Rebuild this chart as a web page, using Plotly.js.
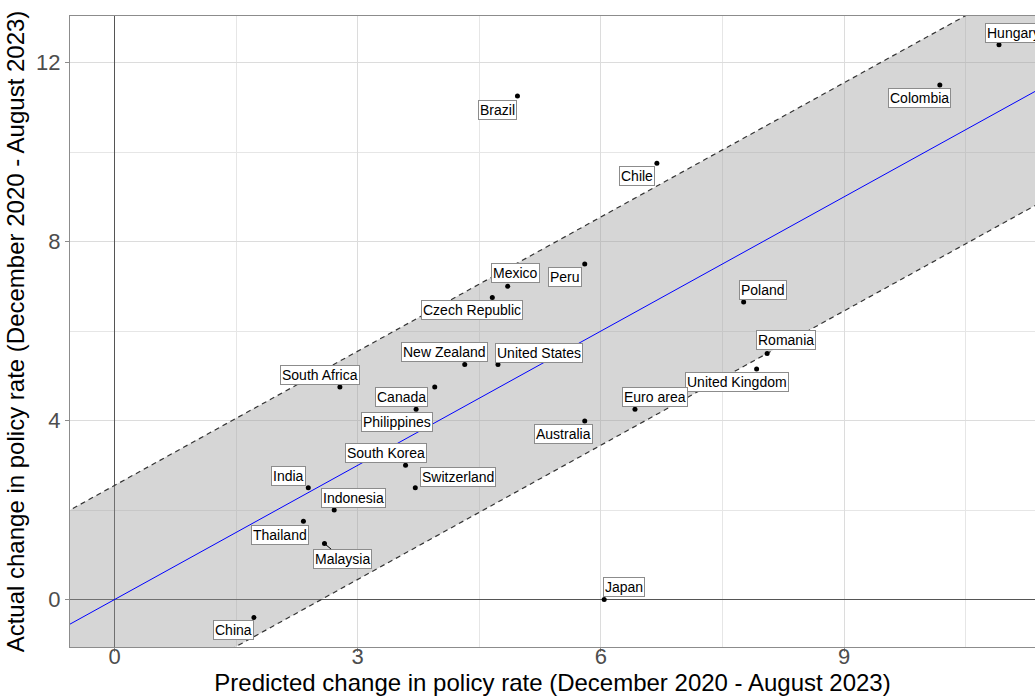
<!DOCTYPE html>
<html>
<head>
<meta charset="utf-8">
<script src="https://cdn.plot.ly/plotly-3.0.1.min.js"></script>
<style>html,body{margin:0;padding:0;background:#fff;}#chart{width:1035px;height:698px;}</style>
</head>
<body>
<div id="chart"></div>
<script>
// ---- Data ----
const countries = ["Brazil","Chile","Hungary","Colombia","Mexico","Peru","Czech Republic","New Zealand","United States","South Africa","Canada","Philippines","Australia","South Korea","Switzerland","India","Indonesia","Thailand","Malaysia","Poland","Romania","United Kingdom","Euro area","China","Japan"];
const predicted = [4.97,6.69,10.91,10.18,4.85,5.80,4.66,4.32,4.73,2.78,3.95,3.72,5.80,3.59,3.71,2.39,2.71,2.33,2.59,7.76,8.05,7.92,6.42,1.72,6.04];
const actual    = [11.25,9.75,12.40,11.50,7.00,7.50,6.75,5.25,5.25,4.75,4.75,4.25,3.99,3.00,2.50,2.50,2.00,1.75,1.25,6.65,5.50,5.15,4.25,-0.40,0.00];
const xTicks = [0,3,6,9];
const yTicks = [0,4,8,12];
// fitted line through origin and its band
const fitSlope = 1.0;
const bandHalfWidth = 2.55;
const lineX = [-1, 12];

// ---- Label placement (pixel offsets from each point) ----
const labelOffsets = {
  "Brazil":[-20,-14],"Chile":[-20,-13],"Hungary":[14,12],"Colombia":[-20,-13],
  "Mexico":[8,13],"Peru":[-20,-13],"Czech Republic":[-20,-13],"New Zealand":[-20,13],
  "United States":[41,12],"South Africa":[-20,12],"Canada":[-33,-10],"Philippines":[-19,-13],
  "Australia":[-21,-13],"South Korea":[-20,12],"Switzerland":[43,11],"India":[-20,12],
  "Indonesia":[19,12],"Thailand":[-23,-14],"Malaysia":[18,-15],"Poland":[19,12],
  "Romania":[19,13],"United Kingdom":[-20,-13],"Euro area":[20,12],"China":[-20,-13],"Japan":[20,13]
};
const connected = {"Malaysia": true};

const fitY = lineX.map(x => fitSlope * x);
const lowY = lineX.map(x => fitSlope * x - bandHalfWidth);
const upY  = lineX.map(x => fitSlope * x + bandHalfWidth);

const traces = [
  {x: lineX, y: lowY, mode: 'lines', line: {color: '#333333', width: 1.2, dash: '5px,4px'}, hoverinfo: 'skip', showlegend: false},
  {x: lineX, y: upY, mode: 'lines', fill: 'tonexty', fillcolor: 'rgba(153,153,153,0.4)', line: {color: '#333333', width: 1.2, dash: '5px,4px'}, hoverinfo: 'skip', showlegend: false},
  {x: lineX, y: fitY, mode: 'lines', line: {color: '#0000ff', width: 1}, hoverinfo: 'skip', showlegend: false},
  {x: predicted, y: actual, text: countries, mode: 'markers', marker: {color: '#000000', size: 5}, showlegend: false}
];

const annotations = countries.map((c, i) => {
  const off = labelOffsets[c];
  const base = {
    x: predicted[i], y: actual[i], xref: 'x', yref: 'y', text: c,
    font: {family: 'Liberation Sans, Arial, sans-serif', size: 14, color: '#000000'},
    bgcolor: '#ffffff', bordercolor: '#8c8c8c', borderwidth: 1, borderpad: 1
  };
  if (connected[c]) {
    return Object.assign(base, {showarrow: true, arrowhead: 0, arrowwidth: 1, arrowcolor: '#000000', ax: off[0], ay: -off[1], standoff: 2});
  }
  return Object.assign(base, {showarrow: false, xshift: off[0], yshift: off[1]});
});

const axisCommon = {
  showgrid: true, gridcolor: '#dcdcdc', gridwidth: 1,
  zeroline: true, zerolinecolor: '#555555', zerolinewidth: 1.2,
  showline: true, linecolor: '#8c8c8c', linewidth: 1,
  ticks: 'outside', ticklen: 4, tickcolor: '#8c8c8c', tickwidth: 1,
  tickfont: {family: 'Liberation Sans, Arial, sans-serif', size: 22, color: '#4d4d4d'},
  automargin: false
};

const layout = {
  width: 1035, height: 698,
  margin: {l: 70, r: 0, t: 16, b: 51},
  paper_bgcolor: '#ffffff', plot_bgcolor: '#ffffff',
  font: {family: 'Liberation Sans, Arial, sans-serif'},
  xaxis: Object.assign({}, axisCommon, {
    range: [-0.549, 11.354], tickvals: xTicks, ticktext: xTicks.map(String), mirror: true,
    ticklabelstandoff: -14,
    minor: {tickvals: [1.5,4.5,7.5,10.5], showgrid: true, gridcolor: '#e6e6e6', gridwidth: 1, ticks: ''},
    title: {text: 'Predicted change in policy rate (December 2020 - August 2023)', font: {size: 24, color: '#000000'}, standoff: 0}
  }),
  yaxis: Object.assign({}, axisCommon, {
    range: [-1.06, 13.04], tickvals: yTicks, ticktext: yTicks.map(String), mirror: false,
    minor: {tickvals: [2,6,10], showgrid: true, gridcolor: '#e6e6e6', gridwidth: 1, ticks: ''},
    title: {text: 'Actual change in policy rate (December 2020 - August 2023)', font: {size: 24, color: '#000000'}, standoff: 4}
  }),
  annotations: annotations,
  showlegend: false
};

Plotly.newPlot('chart', traces, layout, {staticPlot: true, displayModeBar: false});
</script>
</body>
</html>
